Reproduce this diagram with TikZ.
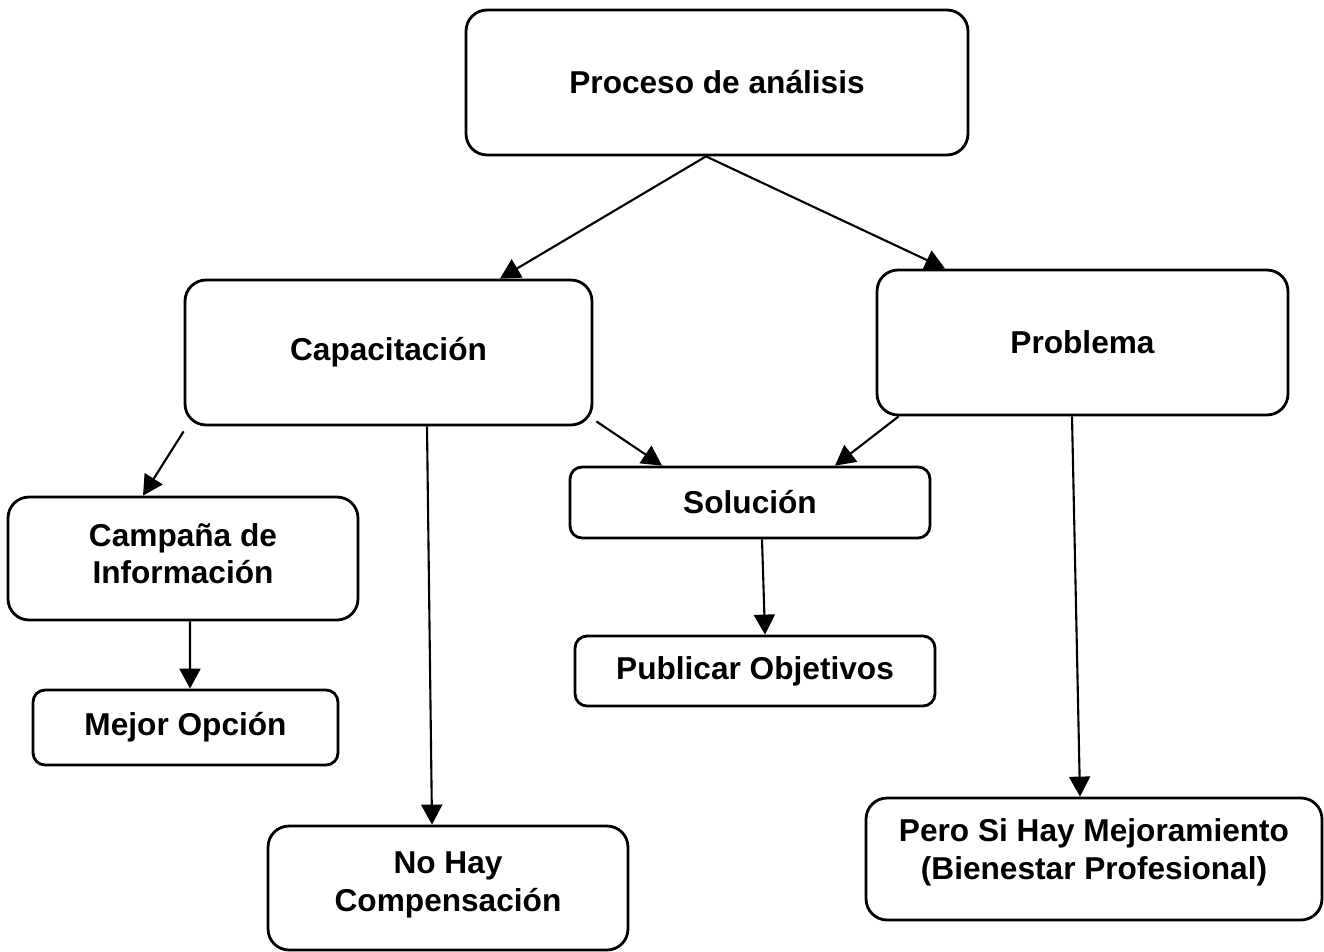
\documentclass[tikz,border=0pt]{standalone}
\usepackage{fontspec}
\setmainfont{Liberation Sans}
\usepackage{tikz}
\usetikzlibrary{arrows.meta}

\begin{document}
\begin{tikzpicture}[x=0.02cm, y=-0.02cm,
    box/.style={draw, line width=1.6pt, rounded corners=0.42cm, align=center,
      font=\fontsize{18}{21.6}\selectfont\bfseries},
    smallbox/.style={box, rounded corners=0.24cm},
    link/.style={line width=1.2pt, -{Triangle[length=0.4cm, width=0.42cm]}}]
    \useasboundingbox (0,0) rectangle (1324,952);
    \node [box, minimum width=10.04cm, minimum height=2.9cm] (1) at (717,82.5)
      {Proceso de análisis};
    \node [box, minimum width=8.14cm, minimum height=2.9cm] (2) at (388.5,352.5)
      {Capacitación};
    \node [box, minimum width=8.22cm, minimum height=2.9cm] (3) at (1082.5,342.5)
      {Problema};
    \node [smallbox, minimum width=7.2cm, minimum height=1.42cm] (4) at (750,502.5)
      {Solución};
    \node [box, minimum width=7cm, minimum height=2.46cm] (5) at (183,558.5)
      {Campaña de\\ Información\\[-0.56cm]};
    \node [smallbox, minimum width=6.1cm, minimum height=1.5cm] (6) at (185.5,727.5)
      {Mejor Opción};
    \node [smallbox, minimum width=7.2cm, minimum height=1.4cm] (7) at (755,671)
      {Publicar Objetivos};
    \node [box, minimum width=7.2cm, minimum height=2.48cm] (8) at (448,888)
      {No Hay\\ Compensación\\[-0.5cm]};
    \node [box, minimum width=9.12cm, minimum height=2.44cm] (9) at (1094,859)
      {Pero Si Hay Mejoramiento\\ (Bienestar Profesional)\\[-0.35cm]};
    \draw [link] ([xshift=-0.22cm]1.south) to ([xshift=2.23cm]2.north);
    \draw [link] ([xshift=-0.22cm]1.south) to ([xshift=-2.75cm]3.north);
    \draw [link] ([yshift=-0.1cm]2.south west) to ([xshift=-0.8cm]5.north);
    \draw [link] ([xshift=0.77cm]2.south) to ([xshift=-0.32cm]8.north);
    \draw [link] ([xshift=0.06cm, yshift=0.1cm]2.south east) to ([xshift=-1.76cm]4.north);
    \draw [link] ([xshift=0.46cm]3.south west) to ([xshift=1.7cm]4.north);
    \draw [link] ([xshift=-0.21cm]3.south) to ([xshift=-0.28cm]9.north);
    \draw [link] ([xshift=0.24cm]4.south) to ([xshift=0.2cm]7.north);
    \draw [link] ([xshift=0.14cm]5.south) to ([xshift=0.09cm]6.north);
\end{tikzpicture}
\end{document}
